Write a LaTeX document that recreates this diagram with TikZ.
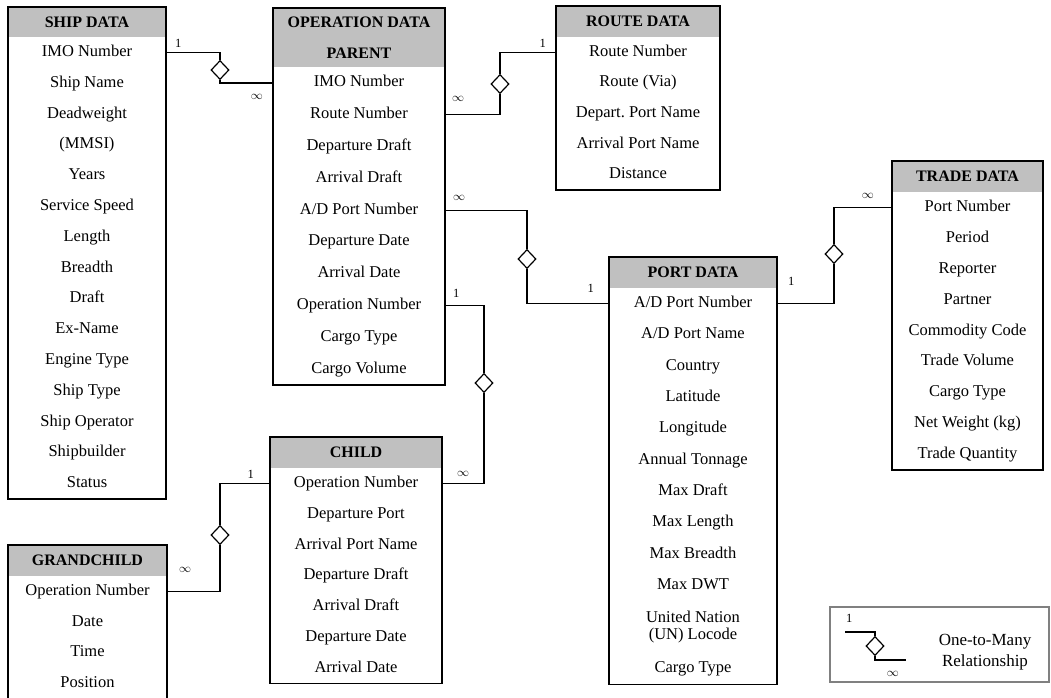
\documentclass[tikz,border=0pt]{standalone}
\usepackage{fontspec}
\setmainfont{Liberation Serif}
\usetikzlibrary{positioning}
\usetikzlibrary{shapes.geometric}

\definecolor{hdrgray}{RGB}{192,192,192}
\definecolor{legendgray}{RGB}{128,128,128}

\tikzset{
  tbl/.style={draw, line width=1.3pt},
  hdr/.style={fill=hdrgray, inner sep=0pt, outer sep=0pt, minimum height=31pt, align=center, font=\bfseries\fontsize{16}{31}\selectfont},
  fld/.style={inner sep=0pt, outer sep=0pt, align=center, text height=11.5pt, text depth=3.5pt, font=\fontsize{16.5}{17}\selectfont},
  relship/.style={draw, diamond, line width=1.2pt, inner sep=0pt, minimum width=18pt, minimum height=19pt, fill=white},
  link/.style={line width=1.2pt},
  card/.style={inner sep=1pt, font=\fontsize{12.5}{12.5}\selectfont},
}

\begin{document}
\begin{tikzpicture}[x=1pt, y=-1pt]

  \clip (0,0) rectangle (1051,697);

  % ship data
  \begin{scope}[hdr/.append style={minimum width=158pt, minimum height=30pt}, fld/.append style={minimum width=158pt, minimum height=30.8pt}]
    \node[hdr] (ship-0) at (87,22) {SHIP DATA};
    \foreach \f [count=\i, remember=\i as \p (initially 0)] in {IMO Number, Ship Name, Deadweight, {(MMSI)}, Years, Service Speed, Length, Breadth, Draft, Ex-Name, Engine Type, Ship Type, Ship Operator, Shipbuilder, Status}
      \node[fld, below=0pt of ship-\p] (ship-\i) {\f};
    \draw[tbl] (ship-0.north west) rectangle (ship-15.south east);
  \end{scope}

  % operation data (parent)
  \begin{scope}[hdr/.append style={minimum width=172pt, minimum height=59pt}, fld/.append style={minimum width=172pt, minimum height=31.8pt}]
    \node[hdr] (op-0) at (359,37.5) {OPERATION DATA\\PARENT};
    \foreach \f [count=\i, remember=\i as \p (initially 0)] in {IMO Number, Route Number, Departure Draft, Arrival Draft, A/D Port Number, Departure Date, Arrival Date, Operation Number, Cargo Type, Cargo Volume}
      \node[fld, below=0pt of op-\p] (op-\i) {\f};
    \draw[tbl] (op-0.north west) rectangle (op-10.south east);
  \end{scope}

  % route data
  \begin{scope}[hdr/.append style={minimum width=164pt}, fld/.append style={minimum width=164pt, minimum height=30.6pt}]
    \node[hdr] (route-0) at (638,21.5) {ROUTE DATA};
    \foreach \f [count=\i, remember=\i as \p (initially 0)] in {Route Number, Route (Via), Depart.\ Port Name, Arrival Port Name, Distance}
      \node[fld, below=0pt of route-\p] (route-\i) {\f};
    \draw[tbl] (route-0.north west) rectangle (route-5.south east);
  \end{scope}

  % trade data
  \begin{scope}[hdr/.append style={minimum width=151pt}, fld/.append style={minimum width=151pt, minimum height=30.9pt}]
    \node[hdr] (trade-0) at (967.5,176.5) {TRADE DATA};
    \foreach \f [count=\i, remember=\i as \p (initially 0)] in {Port Number, Period, Reporter, Partner, Commodity Code, Trade Volume, Cargo Type, Net Weight (kg), Trade Quantity}
      \node[fld, below=0pt of trade-\p] (trade-\i) {\f};
    \draw[tbl] (trade-0.north west) rectangle (trade-9.south east);
  \end{scope}

  % port data
  \begin{scope}[hdr/.append style={minimum width=168pt}, fld/.append style={minimum width=168pt, minimum height=31.3pt}]
    \node[hdr] (port-0) at (693,272.5) {PORT DATA};
    \foreach \f [count=\i, remember=\i as \p (initially 0)] in {A/D Port Number, A/D Port Name, Country, Latitude, Longitude, Annual Tonnage, Max Draft, Max Length, Max Breadth, Max DWT}
      \node[fld, below=0pt of port-\p] (port-\i) {\f};
    \node[fld, text height=, text depth=, minimum height=52pt, below=0pt of port-10] (port-11) {United Nation\\(UN) Locode};
    \node[fld, below=0pt of port-11] (port-12) {Cargo Type};
    \draw[tbl] (port-0.north west) rectangle (port-12.south east);
  \end{scope}

  % child
  \begin{scope}[hdr/.append style={minimum width=172pt}, fld/.append style={minimum width=172pt, minimum height=30.8pt}]
    \node[hdr] (child-0) at (356,452.5) {CHILD};
    \foreach \f [count=\i, remember=\i as \p (initially 0)] in {Operation Number, Departure Port, Arrival Port Name, Departure Draft, Arrival Draft, Departure Date, Arrival Date}
      \node[fld, below=0pt of child-\p] (child-\i) {\f};
    \draw[tbl] (child-0.north west) rectangle (child-7.south east);
  \end{scope}

  % grandchild
  \begin{scope}[hdr/.append style={minimum width=159pt}, fld/.append style={minimum width=159pt, minimum height=30.7pt}]
    \node[hdr] (gc-0) at (87.5,560.5) {GRANDCHILD};
    \foreach \f [count=\i, remember=\i as \p (initially 0)] in {Operation Number, Date, Time, Position}
      \node[fld, below=0pt of gc-\p] (gc-\i) {\f};
    \draw[tbl] (gc-0.north west) rectangle (gc-4.south east);
  \end{scope}

  % one-to-many links
  \node[relship] (d-ship) at (220,70) {};
  \draw[link] (ship-1.east) -| (d-ship.north);
  \draw[link] (d-ship.south) |- (op-1.west);
  \node[card, above right=4pt and 8pt of ship-1.east] {1};
  \node[card, below left=10pt and 9pt of op-1.west] {$\infty$};

  \node[relship] (d-route) at (500,84) {};
  \draw[link] (op-2.east) -| (d-route.south);
  \draw[link] (d-route.north) |- (route-1.west);
  \node[card, above right=12pt and 6pt of op-2.east] {$\infty$};
  \node[card, above left=4pt and 9pt of route-1.west] {1};

  \node[relship] (d-port) at (527,259) {};
  \draw[link] (op-5.east) -| (d-port.north);
  \draw[link] (d-port.south) |- (port-1.west);
  \node[card, above right=8pt and 7pt of op-5.east] {$\infty$};
  \node[card, above left=10pt and 14pt of port-1.west] {1};

  \node[relship] (d-child) at (484,383) {};
  \draw[link] (op-8.east) -| (d-child.north);
  \draw[link] (d-child.south) |- (child-1.east);
  \node[card, above right=7pt and 7pt of op-8.east] {1};
  \node[card, above right=6pt and 14pt of child-1.east] {$\infty$};

  \node[relship] (d-gc) at (220,535) {};
  \draw[link] (child-1.west) -| (d-gc.north);
  \draw[link] (d-gc.south) |- (gc-1.east);
  \node[card, above left=4pt and 15pt of child-1.west] {1};
  \node[card, above right=18pt and 11pt of gc-1.east] {$\infty$};

  \node[relship] (d-trade) at (834,254) {};
  \draw[link] (port-1.east) -| (d-trade.south);
  \draw[link] (d-trade.north) |- (trade-1.west);
  \node[card, above right=17pt and 10pt of port-1.east] {1};
  \node[card, above left=8pt and 17pt of trade-1.west] {$\infty$};

  % legend
  \node[draw=legendgray, line width=2pt, minimum width=219pt, minimum height=75pt] (legend) at (939.5,644.5) {};
  \coordinate (lg-a) at (845,632);
  \coordinate (lg-b) at (906,660);
  \node[relship] (lg-d) at (875,646) {};
  \draw[link] (lg-a) -| (lg-d.north);
  \draw[link] (lg-d.south) |- (lg-b);
  \node[card, above right=8pt and 0pt of lg-a] {1};
  \node[card, below left=10pt and 6pt of lg-b] {$\infty$};
  \node[align=center, font=\fontsize{17}{21}\selectfont] (lg-text) at (985,652) {One-to-Many\\Relationship};

\end{tikzpicture}
\end{document}
